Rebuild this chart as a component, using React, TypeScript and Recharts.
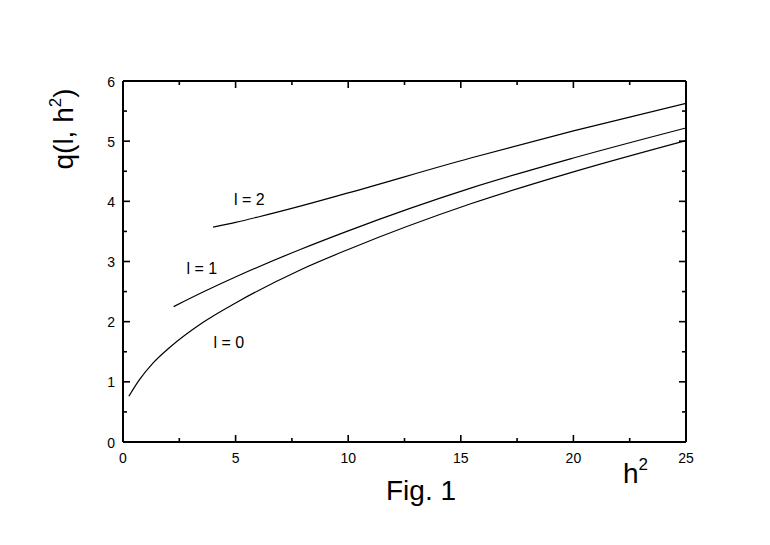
import React from "react";
import { LineChart, Line, XAxis, YAxis, ReferenceDot } from "recharts";

// readings taken off the figure, h^2 vs q(l, h^2)
const l0H = [0.26, 0.74, 1.33, 2.07, 3.56, 5.04, 7.87, 10, 15.44, 20, 25];
const l0Q = [0.76, 1.04, 1.31, 1.57, 1.99, 2.32, 2.86, 3.2, 3.96, 4.49, 5.01];

const l1H = [2.25, 3.6, 5.04, 7.87, 10, 15.44, 20, 25];
const l1Q = [2.25, 2.5, 2.75, 3.2, 3.51, 4.22, 4.72, 5.22];

const l2H = [4.0, 5.0, 6.0, 7.87, 10, 15.44, 20, 25];
const l2Q = [3.57, 3.65, 3.74, 3.92, 4.14, 4.72, 5.17, 5.63];

const xTicks = [0, 2.5, 5, 7.5, 10, 12.5, 15, 17.5, 20, 22.5, 25];
const yTicks = [0, 0.5, 1, 1.5, 2, 2.5, 3, 3.5, 4, 4.5, 5, 5.5, 6];

const curveLabels = [
  { text: "l = 0", h: 4.7, q: 1.66 },
  { text: "l = 1", h: 3.5, q: 2.89 },
  { text: "l = 2", h: 5.61, q: 4.045 },
];

const toRows = (hs: number[], qs: number[]) => hs.map((h, i) => ({ h, q: qs[i] }));

const FONT = "'Liberation Sans', Arial, Helvetica, sans-serif";

function BottomTick(props: any) {
  const { x, y, payload } = props;
  const major = payload.value % 5 === 0;
  return (
    <g>
      <line x1={x} y1={y} x2={x} y2={y - (major ? 7 : 4)} stroke="#000" strokeWidth={1.6} />
      {major && (
        <text x={x} y={y + 21} textAnchor="middle" fontSize={14} fill="#000" fontFamily={FONT}>
          {payload.value}
        </text>
      )}
    </g>
  );
}

function TopTick(props: any) {
  const { x, y, payload } = props;
  const major = payload.value % 5 === 0;
  return <line x1={x} y1={y} x2={x} y2={y + (major ? 7 : 4)} stroke="#000" strokeWidth={1.6} />;
}

function LeftTick(props: any) {
  const { x, y, payload } = props;
  const major = payload.value % 1 === 0;
  return (
    <g>
      <line x1={x} y1={y} x2={x + (major ? 7 : 4)} y2={y} stroke="#000" strokeWidth={1.6} />
      {major && (
        <text x={x - 8} y={y + 5.5} textAnchor="end" fontSize={14} fill="#000" fontFamily={FONT}>
          {payload.value}
        </text>
      )}
    </g>
  );
}

function RightTick(props: any) {
  const { x, y, payload } = props;
  const major = payload.value % 1 === 0;
  return <line x1={x} y1={y} x2={x - (major ? 7 : 4)} y2={y} stroke="#000" strokeWidth={1.6} />;
}

function CurveLabel(text: string) {
  return (props: any) => {
    const vb = props.viewBox || {};
    const cx = (vb.x ?? 0) + (vb.width ?? 0) / 2;
    const cy = (vb.y ?? 0) + (vb.height ?? 0) / 2;
    return (
      <text x={cx} y={cy + 6} textAnchor="middle" fontSize={16} fill="#000" fontFamily={FONT}>
        {text}
      </text>
    );
  };
}

export default function App() {
  const axisLine = { stroke: "#000", strokeWidth: 2 };
  return (
    <div style={{ position: "absolute", left: 0, top: 0, width: 770, height: 545, background: "#fff", fontFamily: FONT }}>
      <LineChart width={770} height={545} margin={{ top: 80, right: 83, bottom: 73, left: 83 }}>
        <XAxis
          xAxisId="bottom"
          dataKey="h"
          type="number"
          domain={[0, 25]}
          ticks={xTicks}
          interval={0}
          height={30}
          tickSize={0}
          tickMargin={0}
          tickLine={false}
          axisLine={axisLine}
          tick={<BottomTick />}
          allowDataOverflow
        />
        <XAxis
          xAxisId="top"
          orientation="top"
          dataKey="h"
          type="number"
          domain={[0, 25]}
          ticks={xTicks}
          interval={0}
          height={1}
          tickSize={0}
          tickMargin={0}
          tickLine={false}
          axisLine={axisLine}
          tick={<TopTick />}
          allowDataOverflow
        />
        <YAxis
          yAxisId="left"
          type="number"
          domain={[0, 6]}
          ticks={yTicks}
          interval={0}
          width={40}
          tickSize={0}
          tickMargin={0}
          tickLine={false}
          axisLine={axisLine}
          tick={<LeftTick />}
          allowDataOverflow
        />
        <YAxis
          yAxisId="right"
          orientation="right"
          type="number"
          domain={[0, 6]}
          ticks={yTicks}
          interval={0}
          width={1}
          tickSize={0}
          tickMargin={0}
          tickLine={false}
          axisLine={axisLine}
          tick={<RightTick />}
          allowDataOverflow
        />
        {[toRows(l0H, l0Q), toRows(l1H, l1Q), toRows(l2H, l2Q)].map((rows, i) => (
          <Line
            key={i}
            data={rows}
            dataKey="q"
            xAxisId="bottom"
            yAxisId="left"
            type="monotone"
            stroke="#000"
            strokeWidth={1.2}
            dot={false}
            isAnimationActive={false}
          />
        ))}
        {curveLabels.map((c) => (
          <ReferenceDot
            key={c.text}
            x={c.h}
            y={c.q}
            xAxisId="bottom"
            yAxisId="left"
            r={0}
            fill="none"
            stroke="none"
            label={{ content: CurveLabel(c.text) }}
          />
        ))}
      </LineChart>
      <svg
        width={770}
        height={545}
        style={{ position: "absolute", left: 0, top: 0, pointerEvents: "none" }}
        fontFamily={FONT}
      >
        <text transform="translate(73,129) rotate(-90)" textAnchor="middle" fontSize={28} fill="#000">
          q(l, h<tspan dy={-12} fontSize={17}>2</tspan>
          <tspan dy={12}>)</tspan>
        </text>
        <text x={623} y={483} fontSize={28} fill="#000">
          h<tspan dy={-13} fontSize={17}>2</tspan>
        </text>
        <text x={421} y={500} textAnchor="middle" fontSize={28} fill="#000">
          Fig. 1
        </text>
      </svg>
    </div>
  );
}
